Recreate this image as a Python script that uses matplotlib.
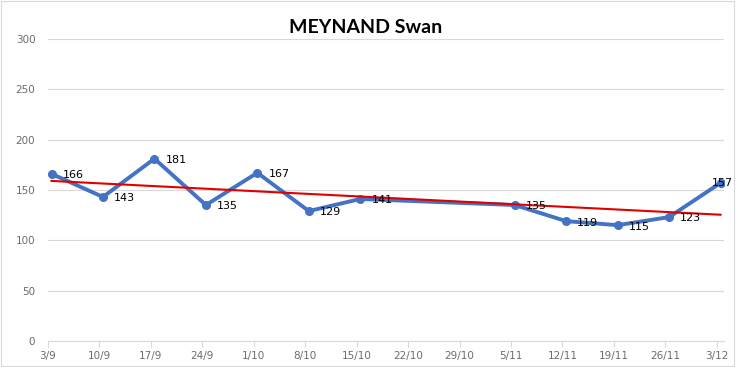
import matplotlib
matplotlib.use("Agg")
import matplotlib.pyplot as plt
import numpy as np
import datetime as dt

title = "MEYNAND Swan"
dates = ["2018-09-03", "2018-09-10", "2018-09-17", "2018-09-24", "2018-10-01", "2018-10-08",
         "2018-10-15", "2018-11-05", "2018-11-12", "2018-11-19", "2018-11-26", "2018-12-03"]
values = [166, 143, 181, 135, 167, 129, 141, 135, 119, 115, 123, 157]
tick_labels = ["3/9", "10/9", "17/9", "24/9", "1/10", "8/10", "15/10", "22/10", "29/10",
               "5/11", "12/11", "19/11", "26/11", "3/12"]

start = dt.date(2018, 9, 3)
days = np.array([(dt.date.fromisoformat(d) - start).days for d in dates], dtype=float)
xs = days + 0.5
vals = np.array(values, dtype=float)

fig = plt.figure(figsize=(7.36, 3.67), dpi=100)
ax = fig.add_axes([0.065, 0.071, 0.919, 0.823])

ax.set_ylim(0, 300)
ax.set_xlim(0, 92)
ax.set_yticks(range(0, 301, 50))
ax.grid(axis="y", color="#d9d9d9", linewidth=0.8)
ax.set_axisbelow(True)
for s in ["top", "right", "left"]:
    ax.spines[s].set_visible(False)
ax.spines["bottom"].set_color("#d9d9d9")
ax.tick_params(axis="y", length=0, labelsize=7.5, labelcolor="#6b6b6b", pad=9)
ax.set_xticks(np.arange(0, 92, 7))
ax.set_xticklabels(tick_labels)
ax.tick_params(axis="x", length=4, color="#d9d9d9", labelsize=7.5, labelcolor="#6b6b6b", pad=3)
for lab in ax.get_yticklabels() + ax.get_xticklabels():
    lab.set_family("DejaVu Sans")

ax.plot(xs, vals, color="#4472c4", linewidth=2.8, marker="o", markersize=5.5, zorder=3)

coef = np.polyfit(days, vals, 1)
tx = np.array([xs[0], xs[-1]])
ax.plot(tx, np.polyval(coef, tx - 0.5), color="#e00000", linewidth=1.5, zorder=4)

n = len(vals)
for i, (x, v) in enumerate(zip(xs, vals)):
    if i == n - 1:
        off, ha = (1, 0), "center"
    else:
        off, ha = (8, -1), "left"
    ax.annotate(f"{v:.0f}", (x, v), xytext=off, textcoords="offset points",
                fontsize=8, color="black", va="center", ha=ha, zorder=5)

fig.text(0.497, 0.925, title, ha="center", va="center", fontsize=14,
         fontweight="bold", family="Lato")

fig.patches.append(plt.Rectangle((0.002, 0.003), 0.995, 0.994, transform=fig.transFigure,
                                 fill=False, edgecolor="#d9d9d9", linewidth=0.8))

fig.savefig("out.png", dpi=100)
